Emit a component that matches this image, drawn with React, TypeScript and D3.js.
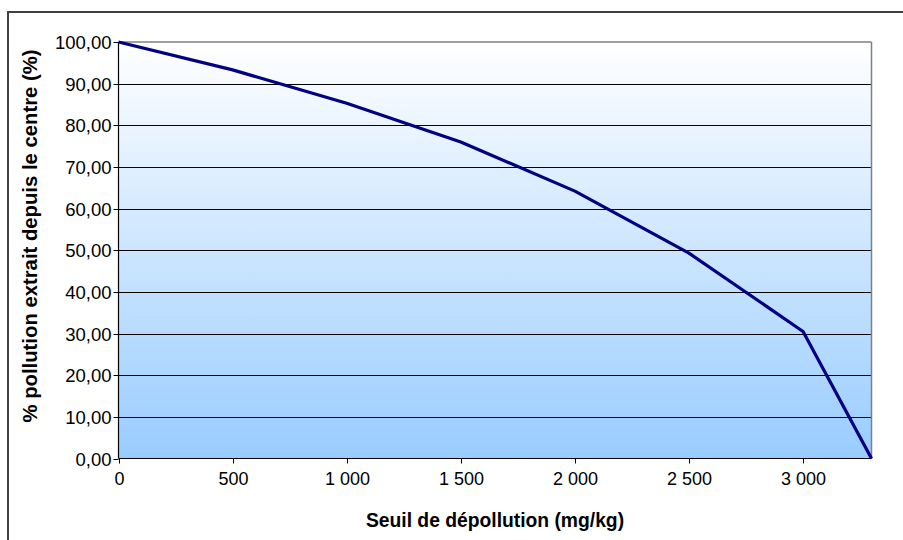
import React from "react";
import * as d3 from "d3";

const seuils = [0, 500, 1000, 1500, 2000, 2500, 3000, 3300];
const pollutionExtraite = [100, 93.3, 85.3, 76.0, 64.2, 49.3, 30.5, 0];
const xTicks = [0, 500, 1000, 1500, 2000, 2500, 3000];
const yTicks = [0, 10, 20, 30, 40, 50, 60, 70, 80, 90, 100];
const xTitle = "Seuil de dépollution (mg/kg)";
const yTitle = "% pollution extrait depuis le centre (%)";

const W = 903;
const H = 540;
const plot = { left: 118.5, top: 42, right: 871.5, bottom: 458.5 };

const locale = d3.formatLocale({
  decimal: ",",
  thousands: " ",
  grouping: [3],
  currency: ["", " €"],
});
const fmtX = locale.format(",d");
const fmtY = locale.format(".2f");

export default function App() {
  const x = d3.scaleLinear().domain([0, 3300]).range([plot.left, plot.right]);
  const y = d3.scaleLinear().domain([0, 100]).range([plot.bottom, plot.top]);
  const pts = seuils.map((s, i) => [s, pollutionExtraite[i]] as [number, number]);
  const line = d3
    .line<[number, number]>()
    .x((d) => x(d[0]))
    .y((d) => y(d[1]));
  const font = "'Liberation Sans', Arial, sans-serif";
  const midX = (plot.left + plot.right) / 2;

  return (
    <svg
      width={W}
      height={H}
      style={{ position: "absolute", left: 0, top: 0, background: "#fff" }}
      fontFamily={font}
    >
      <defs>
        <linearGradient id="bg" x1="0" y1="0" x2="0" y2="1">
          <stop offset="0" stopColor="#ffffff" />
          <stop offset="1" stopColor="#99ccff" />
        </linearGradient>
      </defs>
      <rect x={8} y={12} width={W + 20} height={H + 20} fill="#fff" stroke="#404040" strokeWidth={2} />
      <rect
        x={plot.left}
        y={plot.top}
        width={plot.right - plot.left}
        height={plot.bottom - plot.top}
        fill="url(#bg)"
      />
      {yTicks
        .filter((t) => t > 0 && t < 100)
        .map((t) => (
          <line key={t} x1={plot.left} x2={plot.right} y1={Math.round(y(t)) + 0.5} y2={Math.round(y(t)) + 0.5} stroke="#000" strokeWidth={1} />
        ))}
      <line x1={plot.left} x2={plot.right} y1={plot.top} y2={plot.top} stroke="#808080" strokeWidth={1.5} />
      <line x1={plot.right} x2={plot.right} y1={plot.top} y2={plot.bottom} stroke="#808080" strokeWidth={1.5} />
      <line x1={plot.left} x2={plot.left} y1={plot.top} y2={plot.bottom} stroke="#000" strokeWidth={1.2} />
      <line x1={plot.left} x2={plot.right} y1={plot.bottom} y2={plot.bottom} stroke="#000" strokeWidth={1.2} />
      {yTicks.map((t) => (
        <g key={t} transform={`translate(0,${Math.round(y(t)) + 0.5})`}>
          <line x1={plot.left - 5} x2={plot.left} stroke="#000" strokeWidth={1} />
          <text x={plot.left - 7} dy="0.35em" textAnchor="end" fontSize={18.5} fill="#000">
            {fmtY(t)}
          </text>
        </g>
      ))}
      {xTicks.map((t) => (
        <g key={t} transform={`translate(${Math.round(x(t)) + 0.5},0)`}>
          <line y1={plot.bottom} y2={plot.bottom + 5} stroke="#000" strokeWidth={1} />
          <text y={plot.bottom + 26} textAnchor="middle" fontSize={18} fill="#000">
            {fmtX(t)}
          </text>
        </g>
      ))}
      <path d={line(pts) || ""} fill="none" stroke="#000080" strokeWidth={3.2} strokeLinejoin="round" />
      <text x={midX} y={527} textAnchor="middle" fontSize={19.3} fontWeight="bold" fill="#000">
        {xTitle}
      </text>
      <text
        transform={`translate(37,236) rotate(-90)`}
        textAnchor="middle"
        fontSize={20.3}
        fontWeight="bold"
        fill="#000"
      >
        {yTitle}
      </text>
    </svg>
  );
}
